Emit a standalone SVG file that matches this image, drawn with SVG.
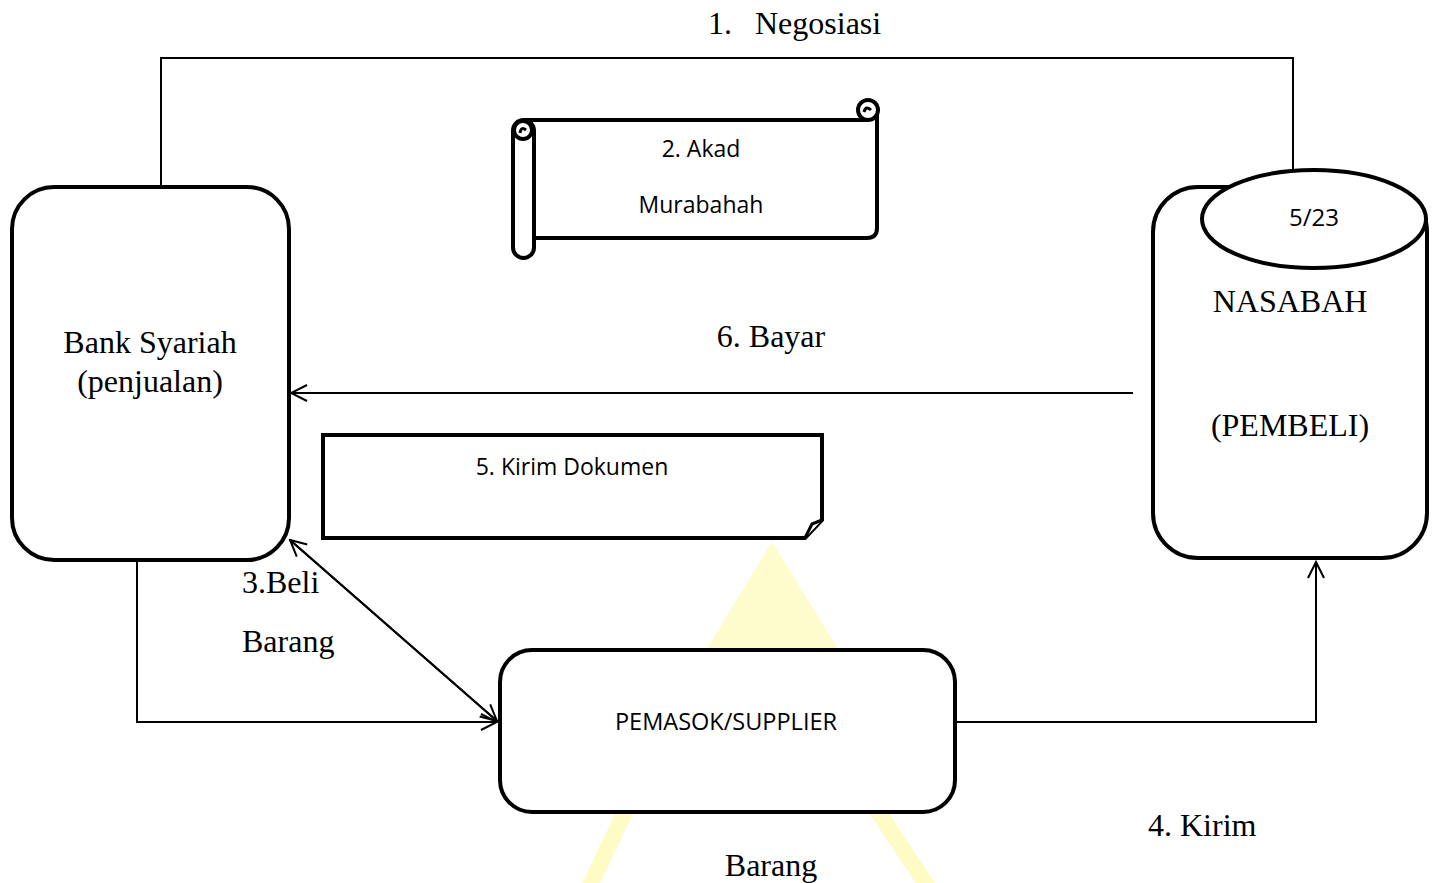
<svg xmlns="http://www.w3.org/2000/svg" width="1435" height="883" viewBox="0 0 1435 883">
<defs>
<style>
.serif{font-family:"Liberation Serif","Times New Roman",serif;font-size:32px;fill:#000}
.sans{font-family:"Open Sans","Liberation Sans",sans-serif;font-size:23px;fill:#000}
.node{fill:#fff;stroke:#000;stroke-width:4}
.conn{fill:none;stroke:#000;stroke-width:2}
.wm{fill:none;stroke:#fefbc4;stroke-width:16;stroke-linecap:round}
</style>
<marker id="arr" viewBox="0 0 20 20" refX="18" refY="10" markerWidth="20" markerHeight="20" markerUnits="userSpaceOnUse" orient="auto">
<path d="M2 2 L18 10 L2 18" fill="none" stroke="#000" stroke-width="2"/>
</marker>
</defs>
<rect width="1435" height="883" fill="#fff"/>
<g id="watermark">
<polygon points="772,542 700,660 845,660" fill="#fefbcc"/>
<line class="wm" x1="625" y1="812" x2="588" y2="890"/>
<line class="wm" x1="878" y1="812" x2="930" y2="890"/>
</g>
<g id="connectors">
<polyline class="conn" points="161,187 161,58 1293,58 1293,180"/>
<line class="conn" x1="1133" y1="393" x2="291" y2="393" marker-end="url(#arr)"/>
<line class="conn" x1="497" y1="721" x2="290" y2="540" marker-end="url(#arr)"/>
<line class="conn" x1="290" y1="540" x2="497" y2="721" marker-end="url(#arr)"/>
<polyline class="conn" points="137,562 137,722 497,722" marker-end="url(#arr)"/>
<polyline class="conn" points="955,722 1316,722 1316,562" marker-end="url(#arr)"/>
</g>
<g id="bank">
<rect class="node" x="12" y="187" width="277" height="373" rx="42"/>
<text class="serif" x="150" y="353" text-anchor="middle">Bank Syariah</text>
<text class="serif" x="150" y="392" text-anchor="middle">(penjualan)</text>
</g>
<g id="akad">
<path class="node" d="M523 120 H868 M877 110 V228 Q877 238 867 238 H534" />
<path d="M523 120 H868" stroke="#000" stroke-width="4"/>
<circle cx="868" cy="110" r="10" fill="#fff" stroke="#000" stroke-width="4"/>
<path d="M864 112 Q866 105 871 110" fill="none" stroke="#000" stroke-width="3"/>
<rect class="node" x="513" y="120" width="21" height="138" rx="10.5"/>
<circle cx="523" cy="130" r="9" fill="#fff" stroke="#000" stroke-width="4"/>
<path d="M520 133 Q521 126 526 130" fill="none" stroke="#000" stroke-width="3"/>
<text class="sans" x="701" y="157" text-anchor="middle">2. Akad</text>
<text class="sans" x="701" y="213" text-anchor="middle">Murabahah</text>
</g>
<g id="nasabah">
<rect class="node" x="1153" y="187" width="274" height="371" rx="45"/>
<ellipse class="node" cx="1314" cy="219" rx="112" ry="49"/>
<text class="sans" x="1314" y="226" text-anchor="middle" style="font-size:24px">5/23</text>
<text class="serif" x="1290" y="312" text-anchor="middle">NASABAH</text>
<text class="serif" x="1290" y="436" text-anchor="middle">(PEMBELI)</text>
</g>
<g id="dokumen">
<path class="node" d="M323 435 H822 V520 L805 538 H323 Z"/>
<path d="M822 520 L812 524 L805 538" fill="#fff" stroke="#000" stroke-width="3"/>
<text class="sans" x="572" y="475" text-anchor="middle">5. Kirim Dokumen</text>
</g>
<g id="supplier">
<rect class="node" x="500" y="650" width="455" height="162" rx="32"/>
<text class="sans" x="726" y="730" text-anchor="middle" style="font-size:23.5px">PEMASOK/SUPPLIER</text>
</g>
<g id="labels">
<text class="serif" x="708" y="34">1.</text>
<text class="serif" x="755" y="34">Negosiasi</text>
<text class="serif" x="771" y="347" text-anchor="middle">6. Bayar</text>
<text class="serif" x="242" y="593">3.Beli</text>
<text class="serif" x="242" y="652">Barang</text>
<text class="serif" x="1148" y="836">4. Kirim</text>
<text class="serif" x="771" y="876" text-anchor="middle">Barang</text>
</g>
</svg>
